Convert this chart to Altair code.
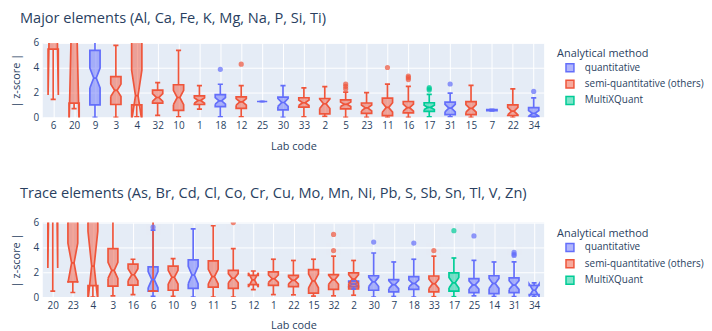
import json
import altair as alt
import pandas as pd

Q = "quantitative"
S = "semi-quantitative (others)"
M = "MultiXQuant"
method_domain = [Q, S, M]
stroke_colors = ["#636efa", "#ef553b", "#00cc96"]
fill_colors = ["rgba(99,110,250,0.5)", "rgba(239,85,59,0.5)", "rgba(0,204,150,0.5)"]

# ---------------- Major elements ----------------
major_title = "Major elements (Al, Ca, Fe, K, Mg, Na, P, Si, Ti)"
major_order = ["6", "20", "9", "3", "4", "32", "10", "1", "18", "12", "25", "30",
               "33", "2", "5", "23", "11", "16", "17", "31", "15", "7", "22", "34"]
major_lab = ["6", "20", "9", "3", "4", "32", "10", "1", "18", "12", "25", "30",
             "33", "2", "5", "23", "11", "16", "17", "31", "15", "7", "22", "34"]
major_method = [S, S, Q, S, S, S, S, S, Q, S, Q, Q, S, S, S, S, S, S, M, Q, S, Q, S, Q]
major_wlo = [1.45, 0.7, 0.0, 0.0, 0.05, 0.16, 0.05, 0.67, 0.05, 0.05, 1.28, 0.0,
             0.05, 0.08, 0.0, 0.0, 0.0, 0.0, 0.05, 0.05, 0.0, 0.53, 0.0, 0.0]
major_q1 = [5.5, 1.15, 1.0, 1.04, 1.0, 1.15, 0.56, 1.04, 0.87, 0.72, 1.28, 0.6,
            0.83, 0.28, 0.69, 0.32, 0.14, 0.37, 0.48, 0.22, 0.22, 0.55, 0.15, 0.08]
major_med = [20.0, 12.5, 3.17, 2.18, 1.75, 1.6, 1.6, 1.36, 1.33, 1.25, 1.28, 1.2,
             1.18, 1.1, 1.05, 0.76, 0.8, 0.78, 0.8, 0.75, 0.72, 0.58, 0.5, 0.32]
major_q3 = [24.0, 16.0, 5.4, 3.28, 9.0, 2.2, 2.63, 1.73, 1.84, 1.65, 1.28, 1.63,
            1.58, 1.52, 1.41, 1.16, 1.55, 1.28, 1.18, 1.23, 1.27, 0.62, 1.0, 0.78]
major_whi = [30.0, 20.0, 6.3, 5.8, 12.0, 2.8, 5.4, 2.56, 2.67, 2.56, 1.28, 2.56,
             2.38, 2.48, 2.03, 2.0, 2.68, 2.5, 1.85, 1.95, 2.58, 0.64, 2.3, 1.57]
major_notch = [18.2, 13.5, 0.8, 0.5, 2.05, 0.31, 0.58, 0.22, 0.27, 0.27, 0.0, 0.32,
               0.22, 0.38, 0.18, 0.24, 0.38, 0.28, 0.17, 0.3, 0.3, 0.02, 0.3, 0.23]
major_out_lab = ["18", "12", "5", "5", "5", "11", "16", "16", "16", "17", "17", "17", "31", "34"]
major_out_method = [Q, S, S, S, S, S, S, S, S, M, M, M, Q, Q]
major_out_value = [3.87, 4.29, 2.3, 2.5, 2.69, 4.02, 3.05, 3.2, 3.33, 2.2, 2.3, 2.4, 2.69, 2.09]

# ---------------- Trace elements ----------------
trace_title = "Trace elements (As, Br, Cd, Cl, Co, Cr, Cu, Mo, Mn, Ni, Pb, S, Sb, Sn, Tl, V, Zn)"
trace_order = ["20", "23", "4", "3", "16", "6", "10", "9", "11", "5", "12", "1", "22",
               "15", "32", "2", "30", "7", "18", "33", "17", "25", "14", "31", "34"]
trace_lab = ["20", "23", "4", "3", "16", "6", "6", "10", "9", "11", "5", "12", "1", "22",
             "15", "32", "2", "2", "30", "7", "18", "33", "17", "25", "14", "31", "34"]
trace_method = [S, S, S, S, S, Q, S, S, Q, S, S, S, S, S,
                S, S, Q, S, Q, Q, Q, S, M, Q, Q, Q, Q]
trace_wlo = [0.48, 0.37, 0.0, 0.1, 0.2, 0.05, 0.48, 0.05, 0.0, 0.0, 0.0, 0.6, 0.2, 0.18,
             0.08, 0.1, 0.65, 0.15, 0.0, 0.05, 0.0, 0.03, 0.03, 0.1, 0.05, 0.03, 0.03]
trace_q1 = [8.0, 1.23, 0.92, 0.88, 0.96, 0.48, 0.48, 0.55, 0.7, 0.8, 0.7, 1.0, 0.95, 0.85,
            0.32, 0.62, 0.82, 0.65, 0.55, 0.42, 0.62, 0.42, 0.48, 0.36, 0.28, 0.36, 0.2]
trace_med = [25.0, 2.75, 2.5, 2.15, 1.8, 1.4, 0.48, 1.6, 1.78, 1.65, 1.52, 1.38, 1.48, 1.35,
             1.3, 1.4, 1.05, 1.45, 1.23, 1.0, 1.1, 1.08, 1.15, 0.98, 1.1, 0.97, 0.55]
trace_q3 = [30.0, 8.0, 9.0, 3.9, 2.65, 2.43, 0.48, 2.5, 3.0, 2.92, 2.15, 1.75, 2.03, 1.75,
            2.22, 1.81, 1.28, 1.95, 1.72, 1.41, 1.65, 1.7, 1.95, 1.49, 1.72, 1.55, 0.95]
trace_whi = [35.0, 11.0, 12.0, 6.5, 3.05, 5.4, 8.0, 3.1, 5.5, 5.75, 3.9, 2.1, 3.05, 2.95,
             3.05, 3.3, 1.3, 2.95, 3.55, 2.83, 3.05, 3.3, 3.15, 2.96, 2.83, 2.83, 1.15]
trace_notch = [22.65, 1.6, 2.8, 0.65, 0.48, 0.65, 0.0, 0.55, 0.7, 0.58, 0.37, 0.58, 0.3, 0.28,
               0.55, 0.36, 0.15, 0.35, 0.38, 0.32, 0.28, 0.38, 0.42, 0.33, 0.4, 0.35, 0.5]
trace_out_lab = ["6", "5", "32", "32", "30", "18", "33", "17", "25", "31", "31", "31"]
trace_out_method = [Q, S, S, S, Q, Q, S, M, Q, Q, Q, Q]
trace_out_value = [5.63, 6.0, 3.75, 5.05, 4.43, 4.35, 3.75, 5.35, 4.93, 3.35, 3.45, 3.6]

# ---------------- styling ----------------
FONT = "Open Sans"
TXT = "#2a3f5f"
HW = 0.245      # half box width (category units)
WAIST = 0.25    # notch waist relative to box width
CAP = 0.5       # whisker cap relative to box width
LW = 1.7


def panel(title, title_offset, order, labs, methods, wlo, q1, med, q3, whi, notch,
          out_lab, out_method, out_value):
    n = len(order)
    boxes = pd.DataFrame(dict(lab=labs, method=methods,
                              pos=[order.index(l) for l in labs],
                              wlo=wlo, q1=q1, med=med, q3=q3, whi=whi, notch=notch))
    boxes["box"] = range(len(boxes))
    boxes["nlo"] = boxes["med"] - boxes["notch"]
    boxes["nhi"] = boxes["med"] + boxes["notch"]

    rows = []
    for _, b in boxes.iterrows():
        verts = [(-1, b.nlo), (-1, b.q1), (1, b.q1), (1, b.nlo), (WAIST, b.med),
                 (1, b.nhi), (1, b.q3), (-1, b.q3), (-1, b.nhi), (-WAIST, b.med),
                 (-1, b.nlo)]
        for k, (dx, yv) in enumerate(verts):
            rows.append(dict(box=int(b.box), method=b.method, k=k,
                             x=b.pos + dx * HW, y=yv))
    poly = pd.DataFrame(rows)

    outl = pd.DataFrame(dict(lab=out_lab, method=out_method,
                             pos=[order.index(l) for l in out_lab], value=out_value))

    xs = alt.Scale(domain=[-0.5, n - 0.5], nice=False, zero=False)
    ys = alt.Scale(domain=[0, 6], nice=False, zero=False)
    xaxis = alt.Axis(values=list(range(n)),
                     labelExpr=json.dumps(order) + "[round(datum.value)]",
                     title="Lab code", labelPadding=3, titlePadding=10)
    yaxis = alt.Axis(values=[0, 2, 4, 6], title="| z-score |",
                     labelPadding=4, titlePadding=12)
    legend = alt.Legend(title="Analytical method", orient="none",
                        legendX=518, legendY=5, symbolType="square",
                        symbolSize=64, symbolStrokeWidth=1.5,
                        symbolOffset=8, labelOffset=10, rowPadding=2.5,
                        titlePadding=4)
    stroke = alt.Stroke("method:N", scale=alt.Scale(domain=method_domain, range=stroke_colors),
                        legend=legend)
    fill = alt.Fill("method:N", scale=alt.Scale(domain=method_domain, range=fill_colors),
                    legend=legend)

    box_layer = alt.Chart(poly).mark_line(strokeWidth=LW, clip=True, strokeJoin="miter").encode(
        x=alt.X("x:Q", scale=xs, axis=xaxis),
        y=alt.Y("y:Q", scale=ys, axis=yaxis),
        order=alt.Order("k:Q"),
        detail="box:N",
        stroke=stroke,
        fill=fill,
    )

    base = alt.Chart(boxes).transform_calculate(
        c0=f"datum.pos - {HW * CAP}", c1=f"datum.pos + {HW * CAP}",
        m0=f"datum.pos - {HW * WAIST}", m1=f"datum.pos + {HW * WAIST}",
    )
    w_lo = base.mark_rule(strokeWidth=LW, clip=True).encode(
        x=alt.X("pos:Q", scale=xs, axis=xaxis),
        y=alt.Y("wlo:Q", scale=ys, axis=yaxis), y2="q1:Q", stroke=stroke)
    w_hi = base.mark_rule(strokeWidth=LW, clip=True).encode(
        x=alt.X("pos:Q", scale=xs, axis=xaxis),
        y=alt.Y("q3:Q", scale=ys, axis=yaxis), y2="whi:Q", stroke=stroke)
    cap_lo = base.mark_rule(strokeWidth=LW, clip=True).encode(
        x=alt.X("c0:Q", scale=xs, axis=xaxis), x2="c1:Q",
        y=alt.Y("wlo:Q", scale=ys, axis=yaxis), stroke=stroke)
    cap_hi = base.mark_rule(strokeWidth=LW, clip=True).encode(
        x=alt.X("c0:Q", scale=xs, axis=xaxis), x2="c1:Q",
        y=alt.Y("whi:Q", scale=ys, axis=yaxis), stroke=stroke)
    med_rule = base.mark_rule(strokeWidth=LW, clip=True).encode(
        x=alt.X("m0:Q", scale=xs, axis=xaxis), x2="m1:Q",
        y=alt.Y("med:Q", scale=ys, axis=yaxis), stroke=stroke)
    pts = alt.Chart(outl).mark_point(filled=False, size=7, strokeWidth=2.6, clip=True,
                                     shape="circle").encode(
        x=alt.X("pos:Q", scale=xs, axis=xaxis),
        y=alt.Y("value:Q", scale=ys, axis=yaxis),
        stroke=stroke)

    return alt.layer(box_layer, w_lo, w_hi, cap_lo, cap_hi, med_rule, pts).properties(
        width=505, height=75,
        title=alt.TitleParams(title, anchor="start", frame="group", dx=-23,
                              offset=title_offset),
    )


top = panel(major_title, 12, major_order, major_lab, major_method, major_wlo, major_q1,
            major_med, major_q3, major_whi, major_notch,
            major_out_lab, major_out_method, major_out_value)
bottom = panel(trace_title, 17, trace_order, trace_lab, trace_method, trace_wlo, trace_q1,
               trace_med, trace_q3, trace_whi, trace_notch,
               trace_out_lab, trace_out_method, trace_out_value)

chart = alt.vconcat(top, bottom, spacing=35).resolve_scale(
    x="independent", y="independent", stroke="independent", fill="independent"
).resolve_legend(
    stroke="independent", fill="independent"
).properties(
    padding={"left": 2, "top": 2, "right": 0, "bottom": 0}
).configure_view(
    fill="#E5ECF6", strokeWidth=0
).configure_axis(
    grid=True, gridColor="white", gridWidth=1, domain=False, ticks=False,
    labelFont=FONT, labelFontSize=10, labelColor=TXT,
    titleFont=FONT, titleFontSize=11, titleColor=TXT, titleFontWeight="normal",
).configure_title(
    font=FONT, fontSize=14.7, color=TXT, fontWeight="normal", anchor="start"
).configure_legend(
    titleFont=FONT, titleFontSize=11, titleColor=TXT, titleFontWeight="normal",
    labelFont=FONT, labelFontSize=10, labelColor=TXT, padding=0,
)

chart.save("out.html", embed_options={"renderer": "svg", "actions": False})
